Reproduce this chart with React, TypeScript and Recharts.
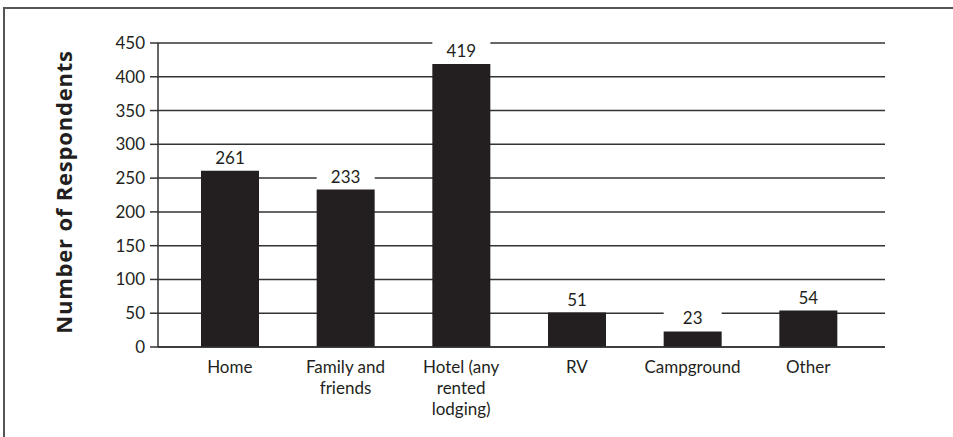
import React from "react";
import {
  BarChart,
  Bar,
  XAxis,
  YAxis,
  CartesianGrid,
  LabelList,
} from "recharts";

const categories = ["Home", "Family and friends", "Hotel (any rented lodging)", "RV", "Campground", "Other"];
const tickLines = [["Home"], ["Family and", "friends"], ["Hotel (any", "rented", "lodging)"], ["RV"], ["Campground"], ["Other"]];
const respondents = [261, 233, 419, 51, 23, 54];
const yTicks = [0, 50, 100, 150, 200, 250, 300, 350, 400, 450];

const data = categories.map((name, i) => ({ name, value: respondents[i] }));

const FONT = "Lato, 'Open Sans', sans-serif";
const INK = "#231f20";

const CategoryTick = (props: any) => {
  const { x, y, index } = props;
  const lines = tickLines[index] || [];
  return (
    <g>
      {lines.map((line, i) => (
        <text
          key={i}
          x={x}
          y={y + 18 + i * 21}
          textAnchor="middle"
          fontFamily={FONT}
          fontSize={17}
          fill={INK}
        >
          {line}
        </text>
      ))}
    </g>
  );
};

const ValueLabel = (props: any) => {
  const { x, y, width, value } = props;
  return (
    <g>
      <rect x={x} y={y - 23} width={width} height={21} fill="#fff" />
      <text
        x={x + width / 2}
        y={y - 7}
        textAnchor="middle"
        fontFamily={FONT}
        fontSize={17}
        fill={INK}
      >
        {value}
      </text>
    </g>
  );
};

const App = () => {
  return (
    <div style={{ position: "absolute", left: 0, top: 0, width: 953, height: 437, background: "#fff" }}>
      <div
        style={{
          position: "absolute",
          left: 3,
          top: 7,
          width: 950,
          height: 430,
          borderTop: "2px solid #555",
          borderLeft: "2px solid #555",
          boxSizing: "border-box",
        }}
      />
      <div style={{ position: "absolute", left: 0, top: 0 }}>
        <BarChart
          width={953}
          height={437}
          data={data}
          margin={{ top: 43, right: 68, bottom: 0, left: 0 }}
          barSize={58}
        >
          <CartesianGrid vertical={false} stroke="#333" strokeWidth={1.5} />
          <XAxis
            dataKey="name"
            height={90}
            interval={0}
            tickLine={false}
            axisLine={{ stroke: "#333", strokeWidth: 1.5 }}
            padding={{ left: 14, right: 19 }}
            tick={<CategoryTick />}
          />
          <YAxis
            width={158}
            domain={[0, 450]}
            ticks={yTicks}
            interval={0}
            tickSize={8}
            tickMargin={5}
            tickLine={{ stroke: "#333", strokeWidth: 1.5 }}
            axisLine={{ stroke: "#333", strokeWidth: 1.5 }}
            tick={{ fontFamily: FONT, fontSize: 17, fill: INK }}
            label={{
              content: () => (
                <text
                  x={63}
                  y={192}
                  transform="rotate(-90 63 192)"
                  textAnchor="middle"
                  dominantBaseline="central"
                  fontFamily="'Open Sans', Lato, sans-serif"
                  fontWeight="bold"
                  fontSize={22}
                  letterSpacing={0.8}
                  fill={INK}
                >
                  Number of Respondents
                </text>
              ),
            }}
          />
          <Bar dataKey="value" fill={INK} isAnimationActive={false}>
            <LabelList dataKey="value" content={<ValueLabel />} />
          </Bar>
        </BarChart>
      </div>
    </div>
  );
};

export default App;
